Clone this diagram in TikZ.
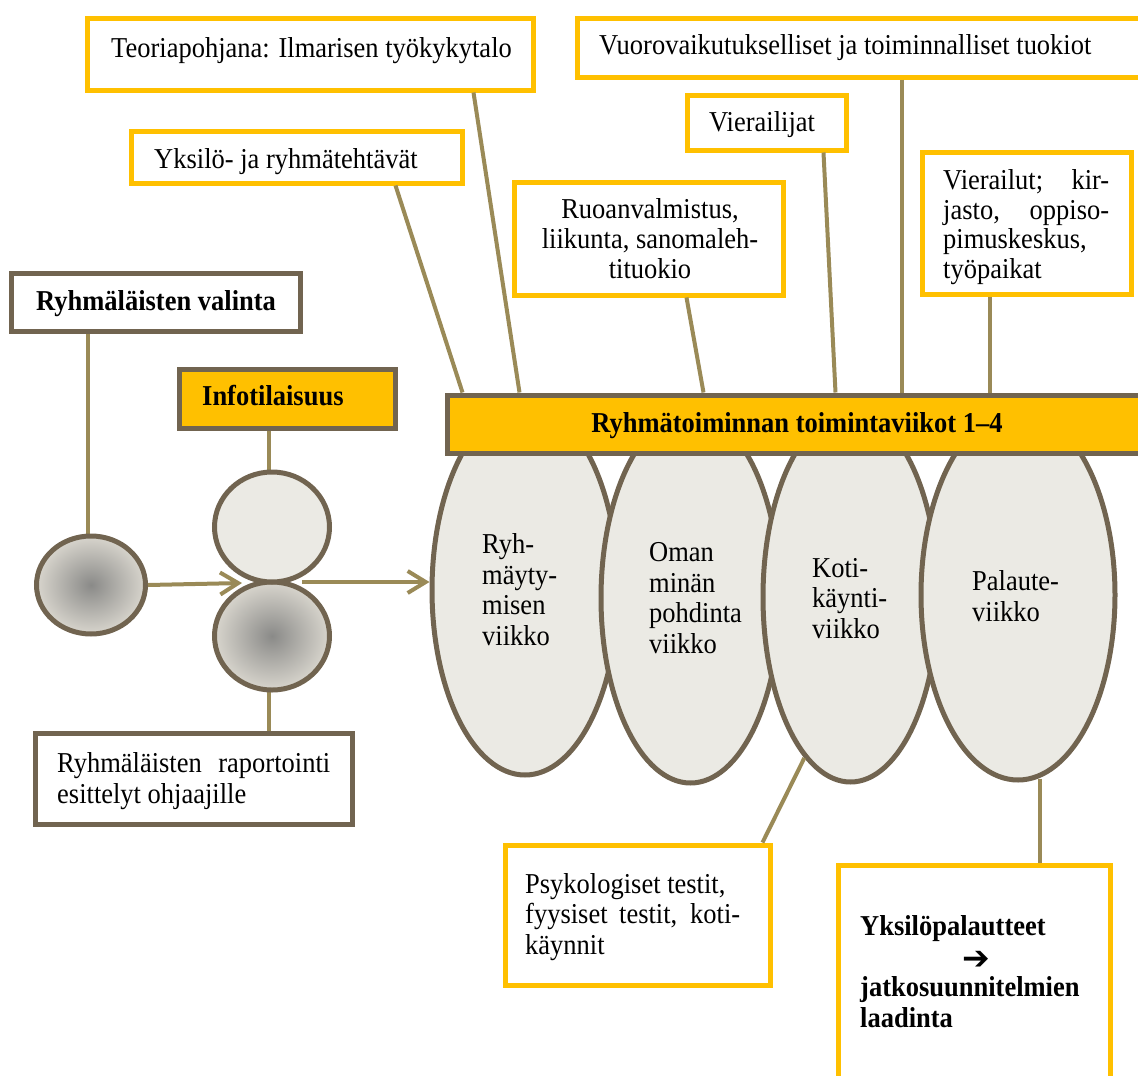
\documentclass[tikz,border=0pt]{standalone}
\usepackage{fontspec}
\setmainfont{Liberation Serif}[FakeStretch=0.92]
\newfontfamily\arrowfont{DejaVu Sans}
\usetikzlibrary{shapes.geometric,arrows.meta}
\definecolor{yel}{HTML}{FFC000}
\definecolor{brn}{HTML}{716450}
\definecolor{oli}{HTML}{9A8A57}
\definecolor{lite}{HTML}{EBEAE4}
\definecolor{gin}{HTML}{8A8A88}
\definecolor{gout}{HTML}{D8D5CD}
\begin{document}
\begin{tikzpicture}[x=1pt,y=-1pt,
  ybox/.style={draw=yel,line width=5pt,fill=white,rectangle,inner sep=0pt},
  gbox/.style={draw=brn,line width=5pt,fill=white,rectangle,inner sep=0pt},
  conn/.style={draw=oli,line width=4pt},
  arr/.style={conn,-{Straight Barb[length=18pt,width=22pt]}},
  wk/.style={ellipse,draw=brn,line width=5pt,fill=lite,inner sep=0pt},
  dot/.style={ellipse,draw=brn,line width=5pt,inner sep=0pt},
  shd/.style={shading=radial,inner color=gin,outer color=gout},
  txt/.style={inner sep=0pt,anchor=base west,align=left,font=\fontsize{28.8}{30.5}\selectfont},
  btxt/.style={txt,font=\fontsize{28.8}{30.5}\selectfont\bfseries},
]
\useasboundingbox (0,0) rectangle (1138,1076);
\clip (0,0) rectangle (1138,1076);

% week ellipses
\node[wk,minimum width=186,minimum height=370] (E1) at (525,590) {};
\node[wk,minimum width=179,minimum height=370] (E2) at (690.5,598) {};
\node[wk,minimum width=175,minimum height=370] (E3) at (850.5,597) {};
\node[wk,minimum width=194,minimum height=370] (E4) at (1018,595) {};
\node[txt] (E1T) at (482,645) {Ryh-\\mäyty-\\misen\\viikko};
\node[txt] (E2T) at (649,653) {Oman\\minän\\pohdinta\\viikko};
\node[txt] (E3T) at (812,638) {Koti-\\käynti-\\viikko};
\node[txt] (E4T) at (972,621) {Palaute-\\viikko};

% bar on top of ellipses
\node[rectangle,draw=brn,line width=5pt,fill=yel,inner sep=0pt,minimum width=703,minimum height=58] (bar) at (798.5,424) {};
\node[btxt,anchor=base] (barT) at (797,432) {Ryhmätoiminnan toimintaviikot 1–4};

% top boxes
\node[ybox,minimum width=446,minimum height=72] (teo) at (310,54) {};
\node[ybox,minimum width=331,minimum height=52] (yks) at (296.5,157) {};
\node[ybox,minimum width=573,minimum height=59] (vuo) at (863.5,47.5) {};
\node[ybox,minimum width=159,minimum height=55] (vij) at (766.5,122.5) {};
\node[ybox,minimum width=269,minimum height=113] (ruo) at (648.5,238.5) {};
\node[ybox,minimum width=209,minimum height=142] (vie) at (1026.5,223) {};

% connectors to bar
\draw[conn] ([xshift=267]yks.south west) -- ([xshift=18]bar.north west);
\draw[conn] ([xshift=389]teo.south west) -- ([xshift=75]bar.north west);
\draw[conn] ([xshift=175]ruo.south west) -- ([xshift=259]bar.north west);
\draw[conn] ([xshift=139]vij.south west) -- ([xshift=391]bar.north west);
\draw[conn] ([xshift=327]vuo.south west) -- ([xshift=457]bar.north west);
\draw[conn] ([xshift=70]vie.south west) -- ([xshift=545]bar.north west);

% texts of top boxes
\node[txt] (teoT) at (111,57) {Teoriapohjana: Ilmarisen työkykytalo};
\node[txt] (yksT) at (154,168) {Yksilö- ja ryhmätehtävät};
\node[txt] (vuoT) at (599,54) {Vuorovaikutukselliset ja toiminnalliset tuokiot};
\node[txt] (vijT) at (709,131) {Vierailijat};
\node[txt,anchor=base,align=center,font=\fontsize{28.8}{29.8}\selectfont] (ruoT) at (650,278) {Ruoanvalmistus,\\liikunta, sanomaleh-\\tituokio};
\node[txt,font=\fontsize{28.8}{29.5}\selectfont] (vieT) at (943,278) {\makebox[166pt][s]{Vierailut; kir-}\\\makebox[166pt][s]{jasto, oppiso-}\\pimuskeskus,\\työpaikat};

% bottom right boxes
\node[ybox,minimum width=265,minimum height=140] (psy) at (637.5,915) {};
\draw[conn] (E3.254) -- ([xshift=-10]psy.north east);
\node[txt] (psyT) at (525,954) {Psykologiset testit,\\\makebox[215pt][s]{fyysiset testit, koti-}\\käynnit};
\node[ybox,minimum width=272,minimum height=235] (ypl) at (974,982.5) {};
\draw[conn] ([xshift=22,yshift=4]E4.south) -- ([xshift=22]E4.south |- ypl.north);
\node[btxt] (yplT) at (860,1027) {Yksilöpalautteet\\\hspace*{102pt}\raisebox{-3pt}{\arrowfont\fontsize{33}{30.5}\selectfont ➔}\\jatkosuunnitelmien\\laadinta};

% left part
\node[gbox,minimum width=289,minimum height=58] (val) at (156,302.5) {};
\node[btxt] (valT) at (36,310) {Ryhmäläisten valinta};
\node[gbox,fill=yel,minimum width=216,minimum height=59] (info) at (287.5,399) {};
\node[btxt] (infoT) at (202,405) {Infotilaisuus};
\node[gbox,minimum width=317,minimum height=91] (rap) at (194,779) {};
\node[txt] (rapT) at (57,803) {\makebox[273pt][s]{Ryhmäläisten raportointi}\\esittelyt ohjaajille};

\coordinate (topA) at (88,540);
\coordinate (topB) at (269,480);
\coordinate (botC) at (269,684);
\draw[conn] (topA) -- (topA |- val.south);
\draw[conn] (topB) -- (topB |- info.south);
\draw[conn] (botC) -- (botC |- rap.north);

\node[dot,shd,minimum width=109,minimum height=98] (A) at (91,585) {};
\node[dot,shd,minimum width=115,minimum height=108] (C) at (272,636) {};
\node[dot,fill=lite,minimum width=115,minimum height=110] (B) at (272,527) {};

\coordinate (j1) at (242,583);
\coordinate (j2) at (302,582);
\draw[arr] (A.east) -- (j1);
\draw[arr] (j2) -- (j2 -| E1.west);
\end{tikzpicture}
\end{document}
